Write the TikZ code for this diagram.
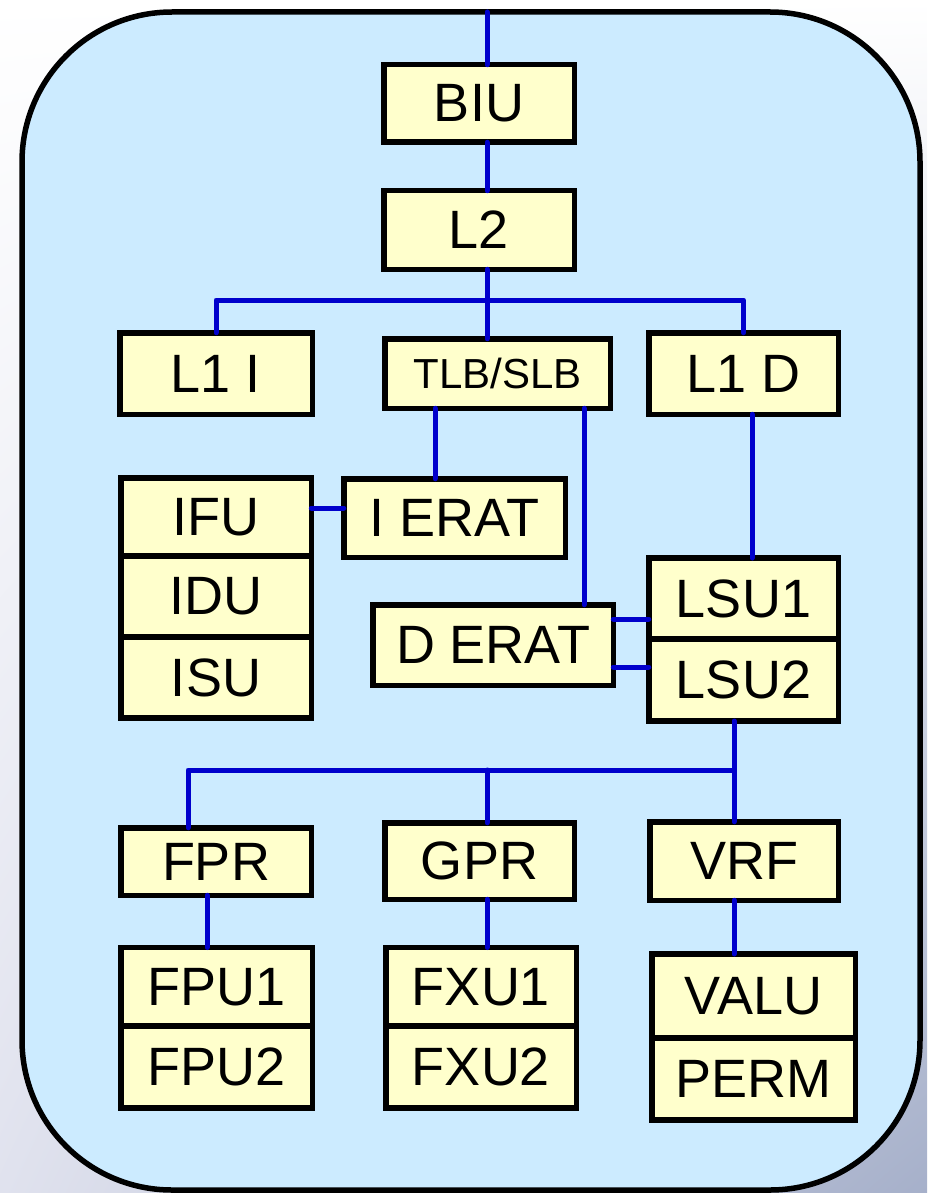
\documentclass[tikz,border=0pt]{standalone}
\usepackage{fontspec}
\setmainfont{Liberation Sans}
\usetikzlibrary{shadings}

\definecolor{cellfill}{RGB}{255,255,204}
\definecolor{corebg}{RGB}{204,235,255}
\definecolor{wireblue}{RGB}{0,0,204}
\definecolor{edgeleft}{RGB}{224,226,238}
\definecolor{edgeright}{RGB}{166,176,202}

\tikzset{
  unit/.style={draw=black, line width=5.5pt, fill=cellfill, inner sep=0pt, outer sep=0pt,
    font=\fontsize{54}{60}\selectfont},
  smallunit/.style={unit, font=\fontsize{42}{48}\selectfont},
  wire/.style={draw=wireblue, line width=5pt, line cap=round, line join=round},
  frame/.style={draw=black, line width=5.5pt, fill=corebg, rounded corners=150pt}
}

\begin{document}
\begin{tikzpicture}[x=1pt,y=1pt,yscale=-1]
\useasboundingbox (0,0) rectangle (927,1193);

%backdrop and core outline
\shade[upper left=white, upper right=white, lower left=edgeleft, lower right=edgeright] (0,0) rectangle (927,1193);
\path[frame] (22,12) rectangle (920,1190);

%caches
\node[unit, minimum width=190.5pt, minimum height=77.5pt] (biu) at (479,103.5) {BIU};
\node[unit, minimum width=190.5pt, minimum height=78.5pt] (l2) at (479,230) {L2};
\node[unit, minimum width=192.5pt, minimum height=81.5pt] (l1i) at (216,373.5) {L1 I};
\node[smallunit, minimum width=225.5pt, minimum height=69.5pt] (tlb) at (497.5,373.5) {TLB/SLB};
\node[unit, minimum width=189.5pt, minimum height=81.5pt] (l1d) at (743.5,373.5) {L1 D};

%front end
\node[unit, minimum width=190.5pt, minimum height=78pt] (ifu) at (216,517) {IFU};
\node[unit, minimum width=190.5pt, minimum height=81pt] (idu) at (216,596.5) {IDU};
\node[unit, minimum width=190.5pt, minimum height=81pt] (isu) at (216,677.5) {ISU};
\node[unit, minimum width=221.5pt, minimum height=78.5pt] (ierat) at (454.5,518) {I ERAT};
\node[unit, minimum width=240.5pt, minimum height=80.5pt] (derat) at (493,645) {D ERAT};
\node[unit, minimum width=189.5pt, minimum height=81pt] (lsu1) at (743.5,598.5) {LSU1};
\node[unit, minimum width=189.5pt, minimum height=82pt] (lsu2) at (743.5,680) {LSU2};

%register files
\node[unit, minimum width=190.5pt, minimum height=67.5pt] (fpr) at (216,861.5) {FPR};
\node[unit, minimum width=189.5pt, minimum height=76.5pt] (gpr) at (479.5,861) {GPR};
\node[unit, minimum width=188.5pt, minimum height=78.5pt] (vrf) at (744,861) {VRF};

%execution units
\node[unit, minimum width=191.5pt, minimum height=78.5pt] (fpu1) at (216.5,986.75) {FPU1};
\node[unit, minimum width=191.5pt, minimum height=82pt] (fpu2) at (216.5,1067) {FPU2};
\node[unit, minimum width=190.5pt, minimum height=78.5pt] (fxu1) at (481,986.75) {FXU1};
\node[unit, minimum width=190.5pt, minimum height=82pt] (fxu2) at (481,1067) {FXU2};
\node[unit, minimum width=203.5pt, minimum height=84pt] (valu) at (753.5,996) {VALU};
\node[unit, minimum width=203.5pt, minimum height=82pt] (perm) at (753.5,1079) {PERM};

%wire tracks
\coordinate (spine) at (487,12);
\coordinate (rowA) at (0,300);
\coordinate (rowB) at (0,770);
\coordinate (tapI) at (435,0);
\coordinate (tapD) at (584,0);
\coordinate (tapL) at (752,0);
\coordinate (colB) at (734,0);
\coordinate (colF) at (188,0);
\coordinate (tapF) at (207,0);
\coordinate (linkI) at (0,508);
\coordinate (linkD1) at (0,619);
\coordinate (linkD2) at (0,667);

%wires
\draw[wire] (spine) -- (spine |- biu.north);
\draw[wire] (spine |- biu.south) -- (spine |- l2.north);
\draw[wire] (spine |- l2.south) -- (spine |- tlb.north);
\draw[wire] (l1i.north) -- (l1i.north |- rowA) -- (l1d.north |- rowA) -- (l1d.north);
\draw[wire] (tapI |- tlb.south) -- (tapI |- ierat.north);
\draw[wire] (tapD |- tlb.south) -- (tapD |- derat.north);
\draw[wire] (tapL |- l1d.south) -- (tapL |- lsu1.north);
\draw[wire] (ifu.east |- linkI) -- (ierat.west |- linkI);
\draw[wire] (derat.east |- linkD1) -- (lsu1.west |- linkD1);
\draw[wire] (derat.east |- linkD2) -- (lsu2.west |- linkD2);
\draw[wire] (colB |- lsu2.south) -- (colB |- vrf.north);
\draw[wire] (colF |- fpr.north) -- (colF |- rowB) -- (colB |- rowB);
\draw[wire] (spine |- rowB) -- (spine |- gpr.north);
\draw[wire] (tapF |- fpr.south) -- (tapF |- fpu1.north);
\draw[wire] (spine |- gpr.south) -- (spine |- fxu1.north);
\draw[wire] (colB |- vrf.south) -- (colB |- valu.north);
\end{tikzpicture}
\end{document}
